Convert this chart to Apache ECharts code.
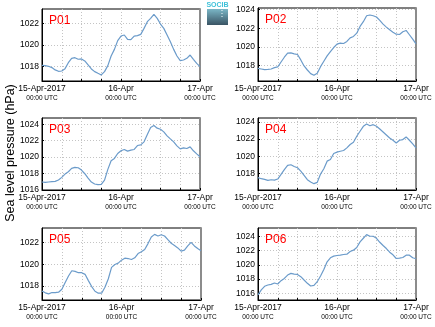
<!DOCTYPE html>
<html>
<head>
<meta charset="utf-8">
<script src="https://cdn.jsdelivr.net/npm/echarts@6/dist/echarts.min.js"></script>
<style>html,body{margin:0;padding:0;background:#fff}#c{width:435px;height:327px}</style>
</head>
<body>
<div id="c"></div>
<script>
const hours = [0,1,2,3,4,5,6,7,8,9,10,11,12,13,14,15,16,17,18,19,20,21,22,23,24,25,26,27,28,29,30,31,32,33,34,35,36,37,38,39,40,41,42,43,44,45,46,47,48];
const panelNames = ['P01','P02','P03','P04','P05','P06'];
const xTickLabels = {0:'15-Apr-2017', 24:'16-Apr', 48:'17-Apr'};
const xTimeLabel = '00:00 UTC';
const yAxisTitle = 'Sea level pressure (hPa)';
const logoText = 'SOCIB';

const p01 = [1018.09,1018.06,1018.00,1017.88,1017.66,1017.53,1017.56,1017.78,1018.34,1018.75,1018.81,1018.66,1018.69,1018.50,1018.13,1017.75,1017.50,1017.34,1017.19,1017.50,1018.06,1018.97,1019.59,1020.41,1020.84,1020.94,1020.53,1020.50,1020.84,1020.88,1021.00,1021.56,1022.19,1022.50,1022.88,1022.50,1021.97,1021.56,1020.94,1020.31,1019.59,1018.97,1018.53,1018.59,1018.75,1019.06,1018.66,1018.28,1017.97];
const p02 = [1017.71,1017.64,1017.57,1017.60,1017.64,1017.78,1017.86,1018.39,1018.90,1019.33,1019.36,1019.26,1019.19,1018.61,1017.96,1017.53,1017.14,1016.96,1017.17,1017.89,1018.47,1019.04,1019.51,1019.94,1020.30,1020.41,1020.37,1020.59,1020.98,1021.13,1021.48,1022.20,1022.71,1023.35,1023.43,1023.35,1023.21,1022.85,1022.45,1022.13,1021.84,1021.59,1021.37,1021.34,1021.63,1021.77,1021.31,1020.84,1020.33];
const p03 = [1016.97,1016.93,1016.97,1017.01,1017.05,1017.21,1017.54,1017.94,1018.22,1018.63,1018.75,1018.71,1018.42,1017.98,1017.45,1016.97,1016.73,1016.65,1016.69,1017.21,1018.51,1019.56,1019.84,1020.44,1020.77,1020.93,1020.73,1020.85,1020.93,1021.41,1021.49,1021.86,1022.75,1023.60,1023.84,1023.52,1023.39,1023.07,1022.59,1022.22,1021.86,1021.37,1021.01,1021.13,1021.05,1021.25,1020.77,1020.40,1020.04];
const p04 = [1017.50,1017.38,1017.30,1017.19,1017.26,1017.22,1017.34,1017.88,1018.43,1018.93,1019.01,1018.81,1018.66,1018.27,1017.77,1017.26,1016.99,1016.80,1016.95,1017.92,1018.54,1019.43,1019.63,1020.32,1020.48,1020.59,1020.67,1020.98,1021.37,1021.64,1022.34,1022.92,1023.50,1023.77,1023.57,1023.69,1023.50,1023.18,1022.84,1022.49,1022.14,1021.87,1021.56,1021.87,1021.95,1022.26,1021.87,1021.44,1020.98];
const p05 = [1017.54,1017.36,1017.27,1017.39,1017.39,1017.42,1017.69,1018.31,1018.92,1019.40,1019.34,1019.22,1019.22,1019.07,1018.49,1017.94,1017.51,1017.33,1017.33,1017.88,1018.64,1019.71,1019.98,1020.11,1020.38,1020.56,1020.53,1020.44,1020.60,1020.99,1021.15,1021.36,1021.91,1022.52,1022.76,1022.61,1022.73,1022.61,1022.27,1021.94,1021.73,1021.51,1021.21,1021.30,1021.69,1022.03,1021.69,1021.45,1021.24];
const p06 = [1015.77,1016.47,1016.98,1017.16,1017.26,1017.44,1017.30,1017.77,1018.09,1018.56,1018.79,1018.70,1018.65,1018.33,1017.86,1017.40,1017.02,1017.12,1017.63,1018.42,1019.35,1020.42,1020.98,1021.21,1021.30,1021.35,1021.44,1021.49,1021.86,1022.05,1022.42,1023.21,1023.72,1024.23,1024.00,1024.00,1023.72,1023.16,1022.70,1022.28,1021.77,1021.40,1020.88,1020.93,1021.02,1021.35,1021.35,1020.98,1020.84];

const yMins = [1016.62,1016.35,1016.00,1016.06,1016.70,1015.06];
const yMaxs = [1023.38,1024.18,1024.76,1024.47,1023.35,1025.16];
const yTicks = [[1018,1020,1022],[1018,1020,1022,1024],[1016,1018,1020,1022,1024],[1018,1020,1022,1024],[1018,1020,1022],[1016,1018,1020,1022,1024]];
const xTicks = [0,6,12,18,24,30,36,42,48];

const seriesValues = [p01,p02,p03,p04,p05,p06];

const gridBoxes = [
  {left:42, top:9, width:158, height:72},
  {left:258, top:8, width:158, height:73},
  {left:42, top:118, width:158, height:72},
  {left:258, top:118, width:158, height:72},
  {left:42, top:228, width:159, height:72},
  {left:258, top:228, width:158, height:72}
];

const FONT = 'Liberation Sans, Arial, sans-serif';
const dotted = {color:'#c4c4c4', width:1, type:[1,2]};
const lineColor = '#6b9bca';

const grids = [], xAxes = [], yAxes = [], series = [], titles = [];
gridBoxes.forEach((g, i) => {
  grids.push(Object.assign({show:true, borderColor:'#000', borderWidth:1, backgroundColor:'transparent', containLabel:false}, g));
  xAxes.push({
    gridIndex:i, type:'value', min:0, max:48,
    axisLine:{show:true, lineStyle:{color:'#000', width:1}},
    axisTick:{show:true, inside:true, length:2, customValues:xTicks, lineStyle:{color:'#000'}},
    splitLine:{show:true, lineStyle:dotted},
    axisLabel:{
      customValues:[0,24,48], margin:3, fontFamily:FONT,
      formatter: v => '{a|' + xTickLabels[v] + '}\n{b|' + xTimeLabel + '}',
      rich:{a:{fontSize:8.5, lineHeight:10, color:'#000', fontFamily:FONT}, b:{fontSize:6.5, lineHeight:9, color:'#000', fontFamily:FONT}}
    }
  });
  yAxes.push({
    gridIndex:i, type:'value', min:yMins[i], max:yMaxs[i], position:'left',
    axisLine:{show:true, lineStyle:{color:'#000', width:1}},
    axisTick:{show:true, inside:true, length:2, customValues:yTicks[i], lineStyle:{color:'#000'}},
    splitLine:{show:true, lineStyle:dotted},
    axisLabel:{customValues:yTicks[i], fontSize:8.5, color:'#000', margin:3, fontFamily:FONT,
      formatter: v => String(Math.round(v))}
  });
  titles.push({text:panelNames[i], left:g.left + 2, top:g.top + 1, textStyle:{color:'#ff0000', fontSize:12, fontWeight:'normal', fontFamily:FONT}});
  series.push({
    type:'line', xAxisIndex:i, yAxisIndex:i, showSymbol:false, animation:false,
    lineStyle:{color:lineColor, width:1.2}, z:3,
    data: hours.map((h, k) => [h, seriesValues[i][k]])
  });
});
gridBoxes.forEach((g, i) => {
  yAxes.push({
    gridIndex:i, type:'value', min:yMins[i], max:yMaxs[i], position:'right',
    axisLine:{show:true, lineStyle:{color:'#8c8c8c', width:2}},
    axisTick:{show:false}, axisLabel:{show:false}, splitLine:{show:false}
  });
});

const chart = echarts.init(document.getElementById('c'), null, {renderer:'canvas'});
chart.setOption({
  backgroundColor:'#fff',
  animation:false,
  title:titles,
  grid:grids,
  xAxis:xAxes,
  yAxis:yAxes,
  series:series,
  graphic:[
    {type:'text', x:11, y:153, rotation:Math.PI/2,
     style:{text:yAxisTitle, fontSize:12.5, fontFamily:FONT, fill:'#000', textAlign:'center', textVerticalAlign:'middle'}},
    {type:'rect', shape:{x:207, y:9, width:21, height:16},
     style:{fill:new echarts.graphic.LinearGradient(0,0,0,1,[{offset:0,color:'#7ab6c6'},{offset:1,color:'#3a5464'}])}},
    {type:'line', shape:{x1:222, y1:10, x2:222, y2:19}, style:{stroke:'#f2fafc', lineWidth:1, lineDash:[1,2]}},
    {type:'text', x:217.5, y:5, style:{text:logoText, fontSize:7, fontWeight:'bold', fontFamily:FONT, fill:'#3fc1d9', textAlign:'center', textVerticalAlign:'middle'}}
  ]
});
</script>
</body>
</html>
